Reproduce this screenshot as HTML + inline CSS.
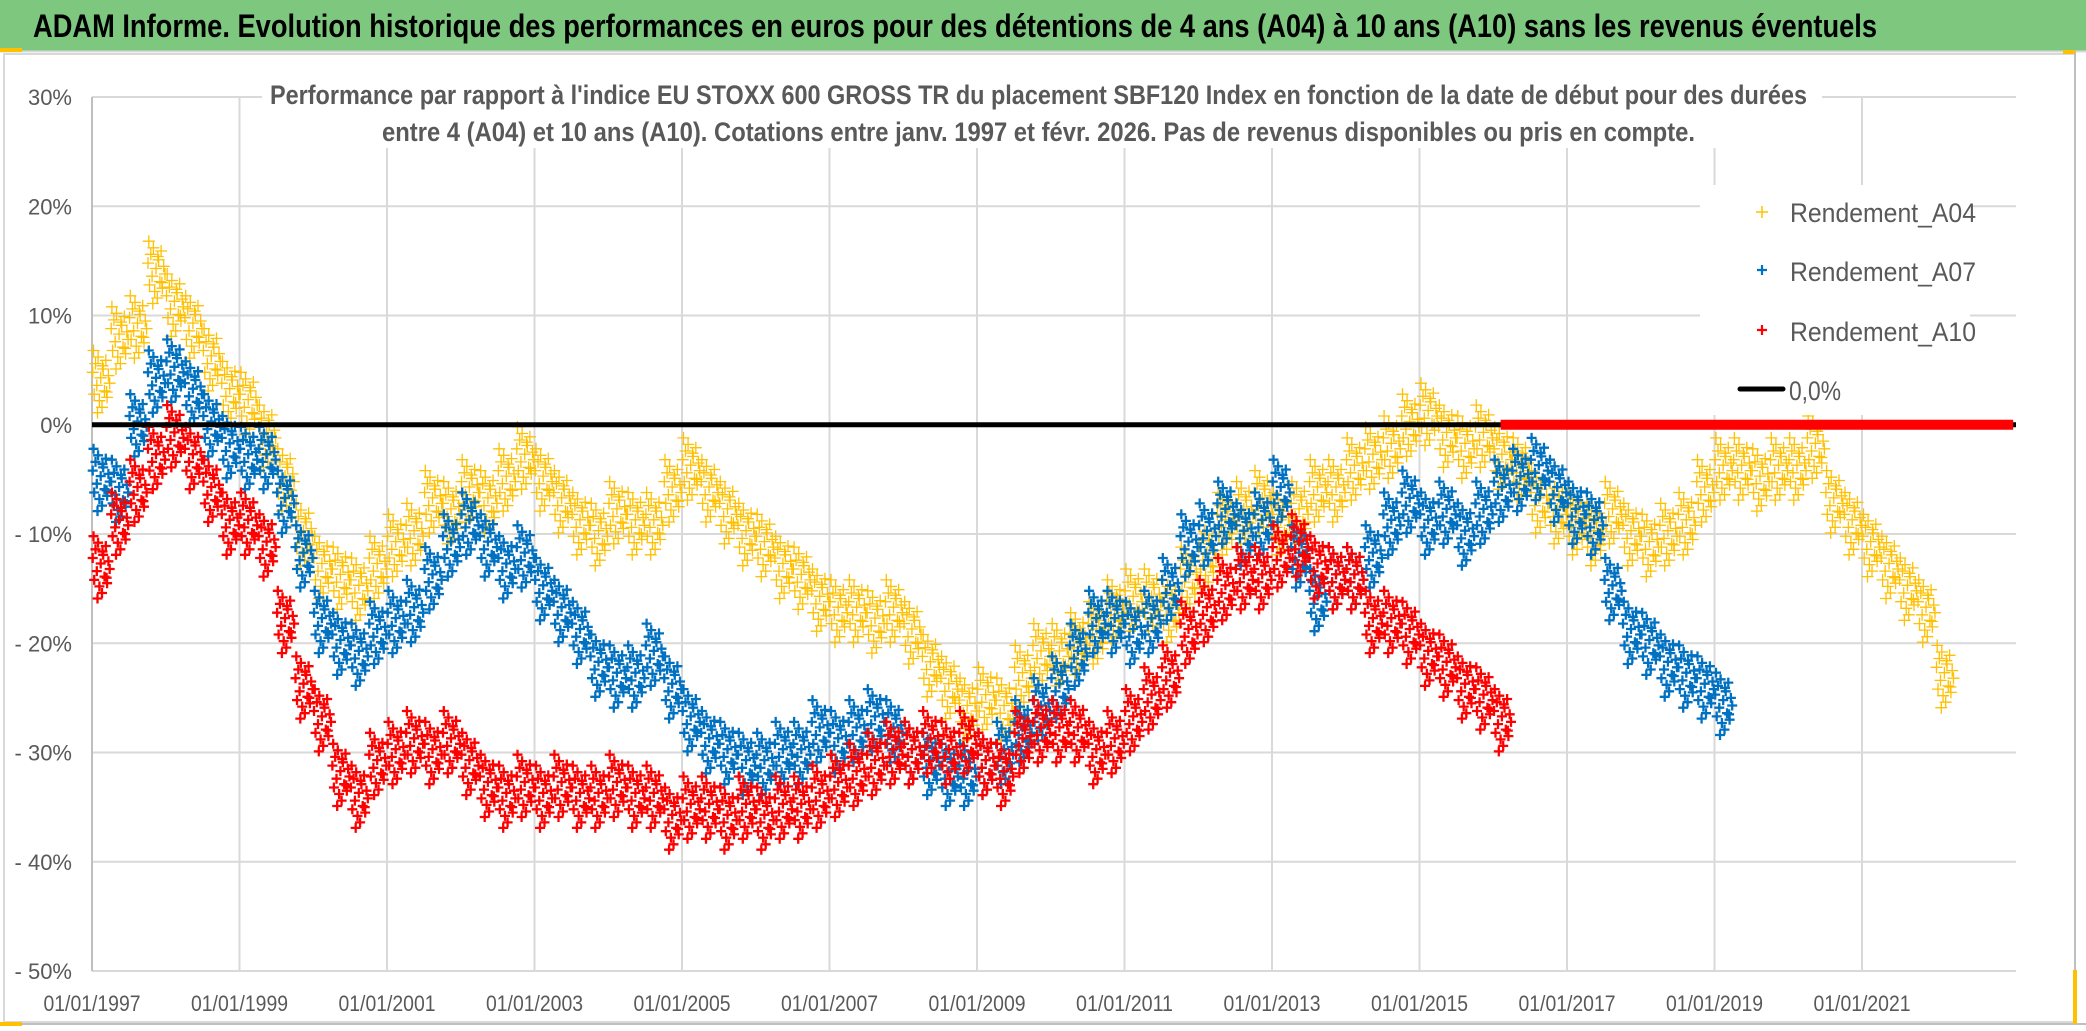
<!DOCTYPE html>
<html><head><meta charset="utf-8">
<style>
html,body{margin:0;padding:0;background:#fff;}
svg{display:block;font-family:"Liberation Sans",sans-serif;}
</style></head>
<body>
<svg id="chart" width="2086" height="1031" viewBox="0 0 2086 1031" xmlns="http://www.w3.org/2000/svg">
  <rect x="0" y="0" width="2086" height="1031" fill="#ffffff"/>
  <rect x="0" y="0" width="2086" height="51" fill="#7DC87E"/>
  <line x1="0" y1="51.5" x2="2086" y2="51.5" stroke="#d9d9d9" stroke-width="2"/>
  <text x="33" y="37" font-size="32" font-weight="bold" fill="#000" textLength="1844" lengthAdjust="spacingAndGlyphs">ADAM Informe. Evolution historique des performances en euros pour des détentions de 4 ans (A04) à 10 ans (A10) sans les revenus éventuels</text>
  <rect x="4" y="54" width="2071" height="968" fill="none" stroke="#d9d9d9" stroke-width="2"/>
  <line x1="2075" y1="50" x2="2075" y2="1024" stroke="#bfbfbf" stroke-width="2"/>
  <line x1="0" y1="1024" x2="2086" y2="1024" stroke="#bfbfbf" stroke-width="2"/>
  <rect x="0" y="48" width="22" height="4" fill="#FFC000"/>
  <rect x="0" y="1022" width="22" height="4" fill="#FFC000"/>
  <rect x="2063" y="50" width="12" height="4" fill="#FFC000"/>
  <rect x="2073" y="970" width="4" height="54" fill="#FFC000"/>
  <g id="grid"></g>
  <g id="axes"></g>
  <rect x="262" y="76" width="1560" height="72" fill="#fff"/>
  <text x="270" y="104" font-size="27" font-weight="bold" fill="#595959" textLength="1537" lengthAdjust="spacingAndGlyphs">Performance par rapport à l'indice EU STOXX 600 GROSS TR  du placement SBF120 Index en fonction de la date de début pour des durées</text>
  <text x="382" y="141" font-size="27" font-weight="bold" fill="#595959" textLength="1313" lengthAdjust="spacingAndGlyphs">entre 4 (A04) et 10 ans (A10). Cotations entre janv. 1997 et févr. 2026. Pas de revenus disponibles ou pris en compte.</text>
  <g id="series"></g>
  <rect x="1700" y="185" width="270" height="230" fill="#fff"/>
  <g>
    <g>
      <path d="M1756 212h12M1762 206v12" stroke="#FFC000" stroke-width="1.5"/>
      <text x="1790" y="222" font-size="27" fill="#595959" textLength="186" lengthAdjust="spacingAndGlyphs">Rendement_A04</text>
    </g>
    <g>
      <path d="M1757 270h10M1762 265v10" stroke="#0070C0" stroke-width="2.2"/>
      <text x="1790" y="281" font-size="27" fill="#595959" textLength="186" lengthAdjust="spacingAndGlyphs">Rendement_A07</text>
    </g>
    <g>
      <path d="M1757 330h10M1762 325v10" stroke="#FF0000" stroke-width="2.2"/>
      <text x="1790" y="341" font-size="27" fill="#595959" textLength="186" lengthAdjust="spacingAndGlyphs">Rendement_A10</text>
    </g>
    <g>
      <line x1="1740" y1="389" x2="1783" y2="389" stroke="#000" stroke-width="5" stroke-linecap="round"/>
      <text x="1789" y="400" font-size="27" fill="#595959" textLength="52" lengthAdjust="spacingAndGlyphs">0,0%</text>
    </g>
  </g>
</svg>
<script>
// ---- data (quarterly start dates, performance %) ----
const a04Years = [1997.0,1997.25,1997.5,1997.75,1998.0,1998.25,1998.5,1998.75,1999.0,1999.25,1999.5,1999.75,2000.0,2000.25,2000.5,2000.75,2001.0,2001.25,2001.5,2001.75,2002.0,2002.25,2002.5,2002.75,2003.0,2003.25,2003.5,2003.75,2004.0,2004.25,2004.5,2004.75,2005.0,2005.25,2005.5,2005.75,2006.0,2006.25,2006.5,2006.75,2007.0,2007.25,2007.5,2007.75,2008.0,2008.25,2008.5,2008.75,2009.0,2009.25,2009.5,2009.75,2010.0,2010.25,2010.5,2010.75,2011.0,2011.25,2011.5,2011.75,2012.0,2012.25,2012.5,2012.75,2013.0,2013.25,2013.5,2013.75,2014.0,2014.25,2014.5,2014.75,2015.0,2015.25,2015.5,2015.75,2016.0,2016.25,2016.5,2016.75,2017.0,2017.25,2017.5,2017.75,2018.0,2018.25,2018.5,2018.75,2019.0,2019.25,2019.5,2019.75,2020.0,2020.25,2020.5,2020.75,2021.0,2021.25,2021.5,2021.75,2022.0];
const a04Values = [4,8,9,14,11,9,6,3,2,-1,-5,-10,-13,-14,-15,-13,-11,-10,-7,-8,-6,-7,-5,-3,-5,-7,-9,-10,-8,-9,-9,-6,-4,-6,-8,-10,-11,-13,-14,-16,-17,-17,-18,-17,-19,-22,-24,-26,-25,-26,-23,-21,-21,-20,-19,-17,-16,-16,-17,-14,-12,-9,-8,-7,-9,-8,-6,-6,-4,-3,-2,0,1,-1,-2,-1,-3,-4,-7,-8,-9,-10,-8,-10,-11,-10,-9,-6,-4,-4,-5,-4,-4,-2,-7,-9,-11,-13,-15,-17,-23];
const a07Years = [1997.0,1997.25,1997.5,1997.75,1998.0,1998.25,1998.5,1998.75,1999.0,1999.25,1999.5,1999.75,2000.0,2000.25,2000.5,2000.75,2001.0,2001.25,2001.5,2001.75,2002.0,2002.25,2002.5,2002.75,2003.0,2003.25,2003.5,2003.75,2004.0,2004.25,2004.5,2004.75,2005.0,2005.25,2005.5,2005.75,2006.0,2006.25,2006.5,2006.75,2007.0,2007.25,2007.5,2007.75,2008.0,2008.25,2008.5,2008.75,2009.0,2009.25,2009.5,2009.75,2010.0,2010.25,2010.5,2010.75,2011.0,2011.25,2011.5,2011.75,2012.0,2012.25,2012.5,2012.75,2013.0,2013.25,2013.5,2013.75,2014.0,2014.25,2014.5,2014.75,2015.0,2015.25,2015.5,2015.75,2016.0,2016.25,2016.5,2016.75,2017.0,2017.25,2017.5,2017.75,2018.0,2018.25,2018.5,2018.75,2019.0];
const a07Values = [-5,-6,0,4,5,3,0,-2,-3,-3,-7,-12,-18,-20,-21,-19,-18,-17,-14,-11,-9,-11,-13,-12,-15,-17,-19,-22,-23,-23,-21,-24,-27,-29,-30,-31,-31,-30,-30,-28,-29,-28,-27,-28,-30,-31,-32,-32,-31,-30,-28,-26,-24,-21,-18,-18,-19,-18,-15,-11,-10,-8,-10,-9,-6,-12,-16,-14,-14,-12,-9,-7,-9,-8,-10,-8,-6,-5,-4,-6,-8,-9,-15,-19,-20,-22,-23,-24,-25.5];
const a10Years = [1997.0,1997.25,1997.5,1997.75,1998.0,1998.25,1998.5,1998.75,1999.0,1999.25,1999.5,1999.75,2000.0,2000.25,2000.5,2000.75,2001.0,2001.25,2001.5,2001.75,2002.0,2002.25,2002.5,2002.75,2003.0,2003.25,2003.5,2003.75,2004.0,2004.25,2004.5,2004.75,2005.0,2005.25,2005.5,2005.75,2006.0,2006.25,2006.5,2006.75,2007.0,2007.25,2007.5,2007.75,2008.0,2008.25,2008.5,2008.75,2009.0,2009.25,2009.5,2009.75,2010.0,2010.25,2010.5,2010.75,2011.0,2011.25,2011.5,2011.75,2012.0,2012.25,2012.5,2012.75,2013.0,2013.25,2013.5,2013.75,2014.0,2014.25,2014.5,2014.75,2015.0,2015.25,2015.5,2015.75,2016.0];
const a10Values = [-13,-9,-6,-3,-1,-3,-6,-9,-9,-11,-18,-24,-27,-32,-34,-31,-30,-29,-30,-29,-31,-33,-34,-33,-34,-33,-34,-34,-33,-34,-34,-36,-35,-35,-36,-35,-36,-35,-35,-34,-33,-32,-31,-30,-30,-29,-30,-29,-31,-32,-29,-28,-28,-28,-30,-29,-27,-25,-23,-19,-17,-15,-14,-14,-12,-11,-13,-14,-14,-18,-18,-19,-21,-22,-24,-25,-27];
const zeroBandStart = 2016.1;
const zeroBandEnd = 2023.05;
const yTicks = [30,20,10,0,-10,-20,-30,-40,-50];
const yTickLabels = ["30%","20%","10%","0%","- 10%","- 20%","- 30%","- 40%","- 50%"];
const xTicks = [1997,1999,2001,2003,2005,2007,2009,2011,2013,2015,2017,2019,2021];
const xTickLabels = ["01/01/1997","01/01/1999","01/01/2001","01/01/2003","01/01/2005","01/01/2007","01/01/2009","01/01/2011","01/01/2013","01/01/2015","01/01/2017","01/01/2019","01/01/2021"];

// ---- scales ----
const NS = "http://www.w3.org/2000/svg";
const plotL = 92, plotR = 2016, plotT = 97, plotB = 971;
const xMin = 1997, xMax = 2023.05, yMin = -50, yMax = 30;
function xs(v){ return plotL + (v - xMin) / (xMax - xMin) * (plotR - plotL) * ((xMax - xMin) * 73.75 / (plotR - plotL)); }
function ys(v){ return plotB - (v - yMin) / (yMax - yMin) * (plotB - plotT); }
function mk(tag, attrs, parent){ const e = document.createElementNS(NS, tag); for (const k in attrs) e.setAttribute(k, attrs[k]); parent.appendChild(e); return e; }

const grid = document.getElementById('grid');
const axes = document.getElementById('axes');
yTicks.forEach((t, i) => {
  const ln = mk('line', {x1: plotL, x2: plotR, y1: ys(t), y2: ys(t), stroke: '#d9d9d9', 'stroke-width': 2}, grid);
  
  
  const tx = mk('text', {x: 72, y: ys(t) + 8, 'text-anchor': 'end', 'font-size': 22, fill: '#595959'}, axes);
  tx.textContent = yTickLabels[i];
  
  
});
xTicks.forEach((t, i) => {
  const ln = mk('line', {x1: xs(t), x2: xs(t), y1: plotT, y2: plotB, stroke: i === 0 ? '#bfbfbf' : '#d9d9d9', 'stroke-width': 2}, grid);
  
  
  const tx = mk('text', {x: xs(t), y: 1011, 'text-anchor': 'middle', 'font-size': 22, fill: '#595959', textLength: 97, lengthAdjust: 'spacingAndGlyphs'}, axes);
  tx.textContent = xTickLabels[i];
  
  
});

// ---- series ----
const layer = document.getElementById('series');
// scatter spread pattern (style only): horizontal fraction of quarter, vertical deviation in %
const spreadX = [-0.46,-0.38,-0.31,-0.24,-0.17,-0.1,-0.03,0.04,0.11,0.18,0.25,0.32,0.39,0.46,-0.42,-0.2,0.07,0.29];
const spreadY = [0.8,-1.2,1.6,-0.4,2.2,-1.8,0.3,-2.4,1.1,-0.9,1.9,-1.5,0.5,-0.2,2.8,-2.9,1.4,-1.0];
function plusPath(cx, cy, h){ return 'M' + (cx - h) + ' ' + cy + 'h' + (2 * h) + 'M' + cx + ' ' + (cy - h) + 'v' + (2 * h); }
function drawSeries(years, values, color, size, sw, name){
  const g = mk('g', {}, layer);
  
  
  let d = '';
  for (let i = 0; i < years.length; i++) {
    const nextV = i + 1 < values.length ? values[i + 1] : values[i];
    for (let k = 0; k < spreadX.length; k++) {
      const f = spreadX[k] + 0.5;
      const v = values[i] + (nextV - values[i]) * f * 0 + spreadY[k];
      d += plusPath(xs(years[i] + spreadX[k] * 0.25 + 0.125).toFixed(1) * 1, ys(v).toFixed(1) * 1, size);
    }
  }
  const p = mk('path', {d: d, stroke: color, 'stroke-width': sw, fill: 'none'}, g);
  
  
}
drawSeries(a04Years, a04Values, '#FFC000', 6, 1.3, 'series-rendement-a04');
drawSeries(a07Years, a07Values, '#0070C0', 5, 2.3, 'series-rendement-a07');
drawSeries(a10Years, a10Values, '#FF0000', 5, 2.3, 'series-rendement-a10');

const zl = mk('line', {x1: plotL, x2: plotR, y1: ys(0), y2: ys(0), stroke: '#000', 'stroke-width': 5}, layer);


const zb = mk('rect', {x: xs(zeroBandStart), y: ys(0) - 5, width: xs(zeroBandEnd) - xs(zeroBandStart), height: 10, fill: '#FF0000'}, layer);


</script>
</body></html>
